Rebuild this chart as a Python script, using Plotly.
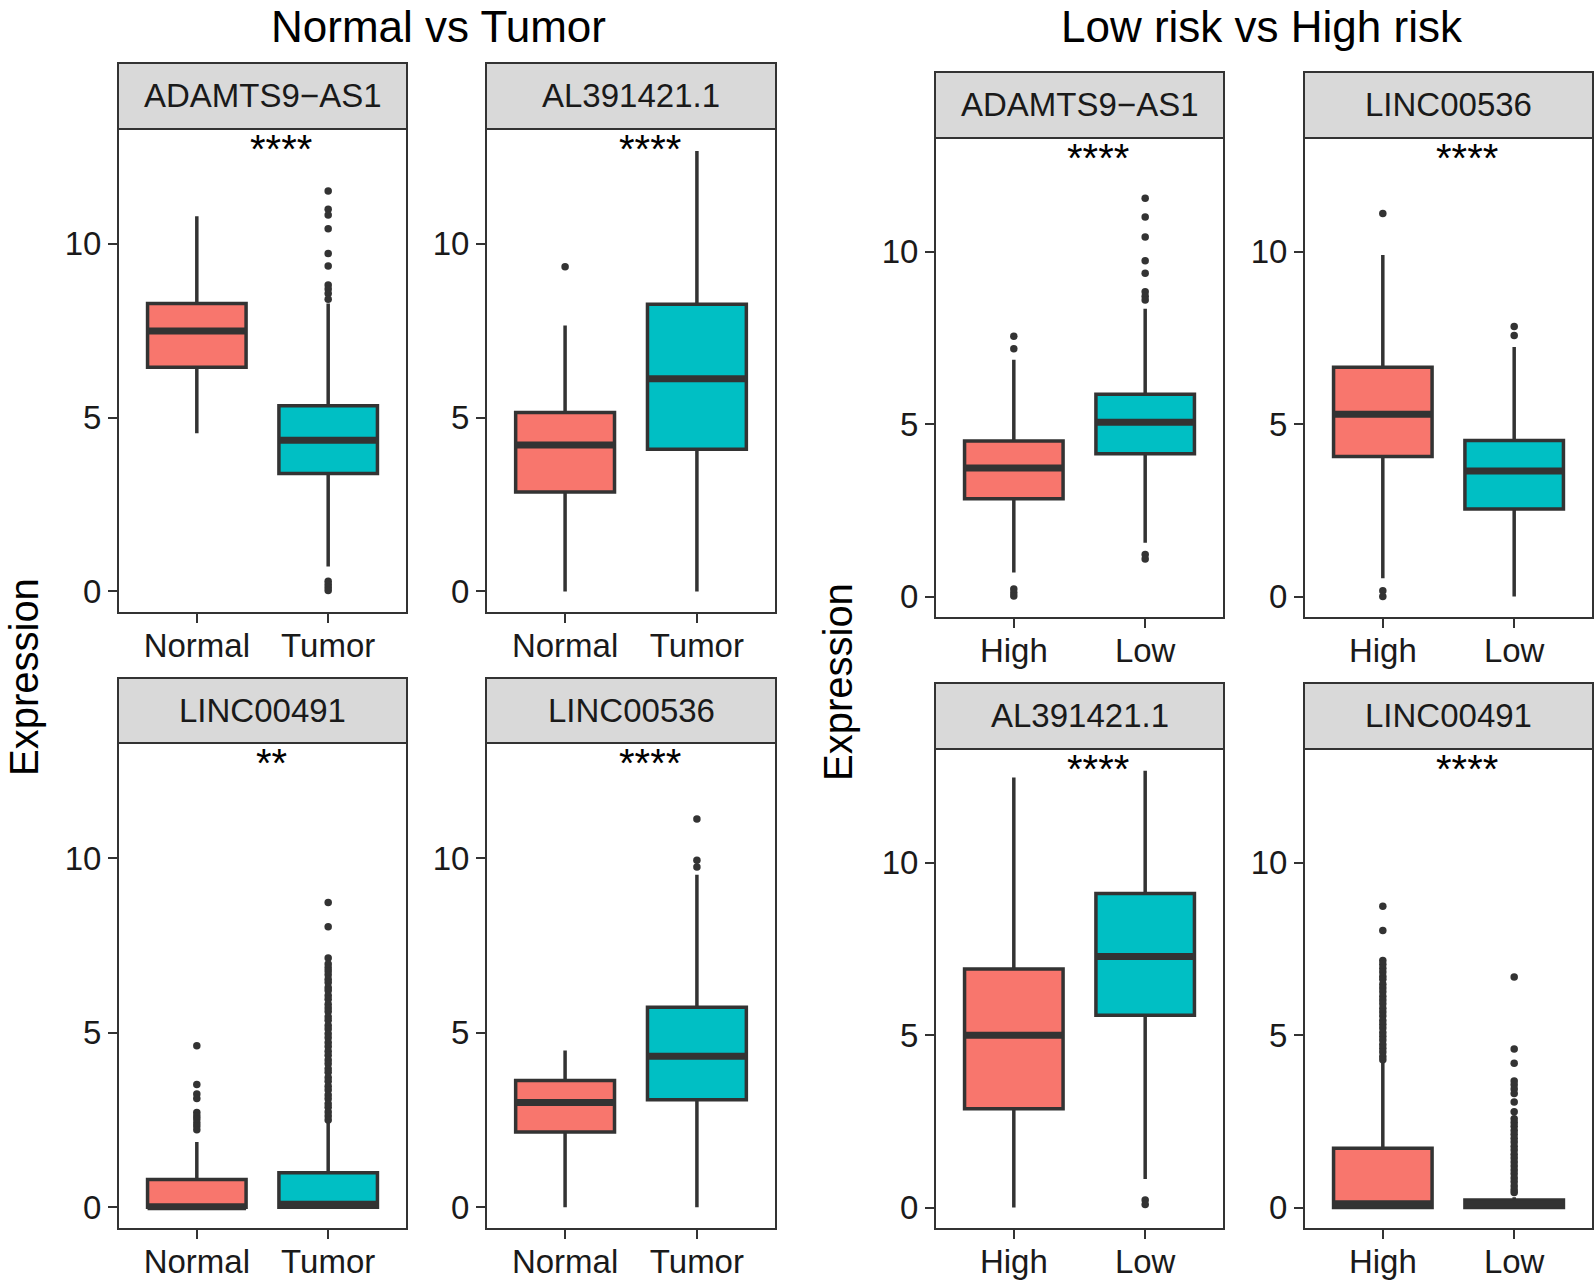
import plotly.graph_objects as go

W, H = 1596, 1281
FONT = "Liberation Sans, Arial, Helvetica, sans-serif"

# ---------------- data ----------------
# Normal vs Tumor
nt_genes = ["ADAMTS9−AS1", "AL391421.1", "LINC00491", "LINC00536"]
nt_groups = ["Normal", "Tumor"]
nt_signif = ["****", "****", "**", "****"]
nt_lower = [[4.55, 0.72], [0.0, 0.0], [0.0, 0.0], [0.0, 0.0]]
nt_q1 = [[6.45, 3.39], [2.86, 4.09], [0.0, 0.0], [2.16, 3.08]]
nt_median = [[7.49, 4.35], [4.21, 6.12], [0.02, 0.09], [3.00, 4.33]]
nt_q3 = [[8.28, 5.34], [5.15, 8.26], [0.80, 0.99], [3.63, 5.73]]
nt_upper = [[10.79, 8.28], [7.65, 12.67], [1.87, 2.42], [4.49, 9.53]]
nt_outliers = [
    [[], [11.52, 10.99, 10.83, 10.43, 9.72, 9.36, 8.81, 8.70, 8.57, 8.40,
          0.29, 0.20, 0.11, 0.03]],
    [[9.34], []],
    [[4.63, 3.52, 3.25, 3.12, 2.72, 2.62, 2.53, 2.42, 2.33, 2.22],
     [8.73, 8.04, 7.14, 6.97, 6.86, 6.77, 6.66, 6.53, 6.44, 6.30, 6.21, 6.07,
      5.96, 5.82, 5.71, 5.61, 5.46, 5.36, 5.21, 5.11, 4.97, 4.86, 4.72, 4.61,
      4.47, 4.36, 4.22, 4.11, 3.97, 3.87, 3.72, 3.61, 3.47, 3.36, 3.22, 3.11,
      2.97, 2.87, 2.73, 2.62, 2.50]],
    [[], [11.12, 9.94, 9.75]],
]

# Low risk vs High risk
rk_genes = ["ADAMTS9−AS1", "LINC00536", "AL391421.1", "LINC00491"]
rk_groups = ["High", "Low"]
rk_signif = ["****", "****", "****", "****"]
rk_lower = [[0.70, 1.56], [0.53, 0.0], [0.0, 0.83], [0.0, 0.0]]
rk_q1 = [[2.84, 4.14], [4.06, 2.54], [2.87, 5.58], [0.0, 0.0]]
rk_median = [[3.73, 5.06], [5.29, 3.64], [5.00, 7.28], [0.11, 0.10]]
rk_q3 = [[4.51, 5.87], [6.65, 4.53], [6.92, 9.11], [1.72, 0.22]]
rk_upper = [[6.87, 8.35], [9.91, 7.24], [12.47, 12.67], [4.28, 0.30]]
rk_outliers = [
    [[7.55, 7.19, 0.22, 0.11, 0.02],
     [11.55, 11.01, 10.43, 9.74, 9.38, 8.84, 8.71, 8.60, 1.22, 1.09]],
    [[11.11, 0.17, 0.0], [7.83, 7.57]],
    [[], [0.22, 0.09]],
    [[8.74, 8.04, 7.17, 7.06, 6.94, 6.83, 6.71, 6.62, 6.48, 6.37, 6.26, 6.13,
      6.02, 5.91, 5.78, 5.67, 5.56, 5.43, 5.32, 5.21, 5.08, 4.97, 4.86, 4.73,
      4.62, 4.51, 4.38, 4.29],
     [6.69, 4.60, 4.19, 3.67, 3.56, 3.44, 3.31, 3.06, 2.78, 2.58, 2.47, 2.36,
      2.24, 2.13, 2.01, 1.90, 1.78, 1.67, 1.55, 1.44, 1.32, 1.21, 1.09, 0.98,
      0.86, 0.75, 0.63, 0.52, 0.44]],
]

y_ticks = [0, 5, 10]
fill_colors = ["#F8766D", "#00BFC4"]

# ---------------- layout geometry (pixels) ----------------
nt_boxes = [(118, 407, 129, 613), (486, 776, 129, 613),
            (118, 407, 743, 1229), (486, 776, 743, 1229)]
nt_strips = [(63, 129), (63, 129), (678, 743), (678, 743)]
rk_boxes = [(935, 1224, 138, 618), (1304, 1593, 138, 618),
            (935, 1224, 749, 1229), (1304, 1593, 749, 1229)]
rk_strips = [(72, 138), (72, 138), (683, 749), (683, 749)]

YR = [-0.62, 13.3]
XR = [0.4, 2.6]
BOXW = 0.75
DARK = "#333333"

panels = []
for i in range(4):
    panels.append(dict(gene=nt_genes[i], groups=nt_groups, sig=nt_signif[i],
                       lo=nt_lower[i], q1=nt_q1[i], med=nt_median[i],
                       q3=nt_q3[i], hi=nt_upper[i], out=nt_outliers[i],
                       box=nt_boxes[i], strip=nt_strips[i]))
for i in range(4):
    panels.append(dict(gene=rk_genes[i], groups=rk_groups, sig=rk_signif[i],
                       lo=rk_lower[i], q1=rk_q1[i], med=rk_median[i],
                       q3=rk_q3[i], hi=rk_upper[i], out=rk_outliers[i],
                       box=rk_boxes[i], strip=rk_strips[i]))

fig = go.Figure()
layout = dict(width=W, height=H, margin=dict(l=0, r=0, t=0, b=0),
              paper_bgcolor="white", plot_bgcolor="white",
              showlegend=False, boxmode="overlay",
              font=dict(family=FONT, color="#1a1a1a"))
shapes, annotations = [], []

for k, p in enumerate(panels):
    n = k + 1
    xa = "x" if n == 1 else f"x{n}"
    ya = "y" if n == 1 else f"y{n}"
    x0, x1, y0, y1 = p["box"]
    s0, s1 = p["strip"]
    for g in range(2):
        gx = g + 1
        fig.add_trace(go.Box(
            x=[gx], q1=[p["q1"][g]], median=[p["med"][g]], q3=[p["q3"][g]],
            lowerfence=[p["lo"][g]], upperfence=[p["hi"][g]],
            width=BOXW, fillcolor=fill_colors[g],
            line=dict(color=DARK, width=3.5), whiskerwidth=0,
            boxpoints=False, xaxis=xa, yaxis=ya, hoverinfo="skip"))
        fig.add_trace(go.Scatter(
            x=[gx - BOXW / 2, gx + BOXW / 2], y=[p["med"][g]] * 2,
            mode="lines", line=dict(color=DARK, width=7),
            xaxis=xa, yaxis=ya, hoverinfo="skip"))
        if p["out"][g]:
            fig.add_trace(go.Scatter(
                x=[gx] * len(p["out"][g]), y=p["out"][g], mode="markers",
                marker=dict(color=DARK, size=7.5),
                xaxis=xa, yaxis=ya, hoverinfo="skip"))
    axfont = dict(family=FONT, size=33, color="#1a1a1a")
    layout["xaxis" if n == 1 else f"xaxis{n}"] = dict(
        domain=[x0 / W, x1 / W], range=XR, tickvals=[1, 2],
        ticktext=p["groups"], ticks="outside", ticklen=9, tickwidth=2,
        tickcolor=DARK, showgrid=False, zeroline=False, showline=False,
        tickfont=axfont, anchor=ya, automargin=False, fixedrange=True,
        ticklabelstandoff=-6)
    layout["yaxis" if n == 1 else f"yaxis{n}"] = dict(
        domain=[1 - y1 / H, 1 - y0 / H], range=YR, tickvals=y_ticks,
        ticks="outside", ticklen=9, tickwidth=2, tickcolor=DARK,
        showgrid=False, zeroline=False, showline=False,
        tickfont=axfont, anchor=xa, automargin=False, fixedrange=True)
    # panel border
    shapes.append(dict(type="rect", xref=f"{xa} domain", yref=f"{ya} domain",
                       x0=0, x1=1, y0=0, y1=1,
                       line=dict(color=DARK, width=2), layer="above"))
    # strip
    shapes.append(dict(type="rect", xref=f"{xa} domain", yref="paper",
                       x0=0, x1=1, y0=1 - s1 / H, y1=1 - s0 / H,
                       fillcolor="#D9D9D9", line=dict(color=DARK, width=2)))
    annotations.append(dict(text=p["gene"], xref=f"{xa} domain", x=0.5,
                            yref="paper", y=1 - (s0 + s1) / 2 / H,
                            xanchor="center", yanchor="middle", showarrow=False,
                            font=dict(family=FONT, size=33, color="#1a1a1a")))
    # significance label
    annotations.append(dict(text=p["sig"], xref=xa, x=1.5 + 0.036 * len(p["sig"]),
                            yref=f"{ya} domain", y=1, xanchor="center",
                            yanchor="top", yshift=4, showarrow=False,
                            font=dict(family=FONT, size=40, color="#000000")))

# group titles and axis titles
annotations += [
    dict(text="Normal vs Tumor", xref="paper", yref="paper", x=438 / W,
         y=1, xanchor="center", yanchor="top", showarrow=False,
         font=dict(family=FONT, size=44, color="#000000")),
    dict(text="Low risk vs High risk", xref="paper", yref="paper", x=1262 / W,
         y=1, xanchor="center", yanchor="top", showarrow=False,
         font=dict(family=FONT, size=44, color="#000000")),
    dict(text="Expression", xref="paper", yref="paper", x=0,
         y=1 - 677 / H, xanchor="left", yanchor="middle", textangle=-90,
         showarrow=False, font=dict(family=FONT, size=40, color="#000000")),
    dict(text="Expression", xref="paper", yref="paper", x=814 / W,
         y=1 - 682 / H, xanchor="left", yanchor="middle", textangle=-90,
         showarrow=False, font=dict(family=FONT, size=40, color="#000000")),
]

layout["shapes"] = shapes
layout["annotations"] = annotations
fig.update_layout(**layout)
fig.write_html(
    "out.html",
    config={"displayModeBar": False},
    post_script="document.body.style.margin='0px';"
                "document.body.style.padding='0px';"
                "document.body.style.overflow='hidden';")
